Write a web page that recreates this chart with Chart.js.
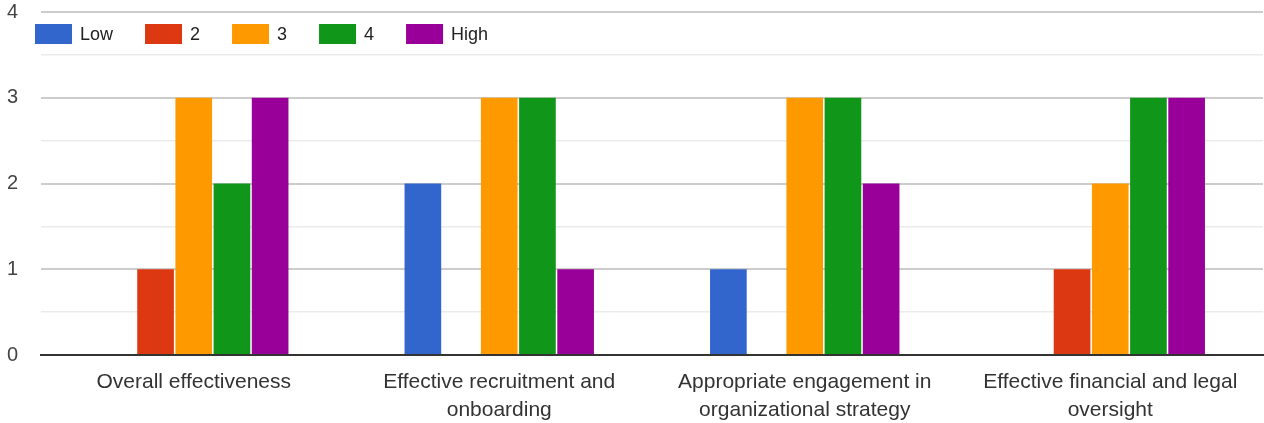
<!DOCTYPE html>
<html>
<head>
<meta charset="utf-8">
<script src="https://cdn.jsdelivr.net/npm/chart.js@4"></script>
<style>
  html, body { margin: 0; padding: 0; background: #fff; }
  #wrap { width: 1264px; height: 423px; position: relative; }
</style>
</head>
<body>
<div id="wrap"><canvas id="chart"></canvas></div>
<script>
// ── DADOS ──────────────────────────────────────
const categories = [
  'Overall effectiveness',
  ['Effective recruitment and', 'onboarding'],
  ['Appropriate engagement in', 'organizational strategy'],
  ['Effective financial and legal', 'oversight']
];
const seriesNames  = ['Low', '2', '3', '4', 'High'];
const seriesColors = ['#3366cc', '#dc3912', '#ff9900', '#109618', '#990099'];
const lowVals   = [0, 2, 1, 0];
const twoVals   = [1, 0, 0, 1];
const threeVals = [3, 3, 3, 2];
const fourVals  = [2, 3, 3, 3];
const highVals  = [3, 1, 2, 3];
const yTicks = [0, 1, 2, 3, 4];

const seriesData = [lowVals, twoVals, threeVals, fourVals, highVals];
const FONT = '"Liberation Sans", Arial, sans-serif';

// Legenda dentro da área do gráfico (estilo Google Forms)
const insideLegend = {
  id: 'insideLegend',
  afterDraw(chart) {
    const { ctx, chartArea } = chart;
    let x = chartArea.left - 6;
    const y = 34;
    ctx.save();
    ctx.font = '18px ' + FONT;
    ctx.textBaseline = 'middle';
    chart.data.datasets.forEach(ds => {
      ctx.fillStyle = ds.backgroundColor;
      ctx.fillRect(x, y - 10, 37, 20);
      x += 37 + 8;
      ctx.fillStyle = '#222';
      ctx.fillText(ds.label, x, y + 1);
      x += ctx.measureText(ds.label).width + 32;
    });
    ctx.restore();
  }
};

new Chart(document.getElementById('chart'), {
  type: 'bar',
  data: {
    labels: categories,
    datasets: seriesNames.map((name, i) => ({
      label: name,
      data: seriesData[i],
      backgroundColor: seriesColors[i],
      borderWidth: 0,
      categoryPercentage: 0.625,
      barPercentage: 0.96
    }))
  },
  options: {
    responsive: true,
    maintainAspectRatio: false,
    animation: false,
    layout: { padding: { top: 12, right: 1, left: 0, bottom: 0 } },
    plugins: {
      legend: { display: false },
      tooltip: { enabled: false }
    },
    scales: {
      x: {
        afterFit: s => { s.height = 68; s.paddingLeft = 0; s.paddingRight = 0; },
        grid: { display: false, drawTicks: false },
        border: { color: '#333', width: 2 },
        ticks: {
          color: '#333', padding: 13, maxRotation: 0, minRotation: 0, autoSkip: false,
          font: { family: FONT, size: 21, lineHeight: 1.333 }
        }
      },
      y: {
        min: 0, max: 4,
        afterFit: s => { s.width = 41; s.paddingTop = 0; s.paddingBottom = 0; },
        border: { display: false },
        grid: {
          drawTicks: false,
          color: c => (c.tick && Number.isInteger(c.tick.value)) ? '#cccccc' : '#ebebeb',
          lineWidth: c => (c.tick && Number.isInteger(c.tick.value)) ? 2 : 1.5
        },
        ticks: {
          stepSize: 0.5, padding: 23, color: '#444',
          font: { family: FONT, size: 20 },
          callback: v => yTicks.includes(v) ? String(v) : ''
        }
      }
    }
  },
  plugins: [insideLegend]
});
</script>
</body>
</html>
